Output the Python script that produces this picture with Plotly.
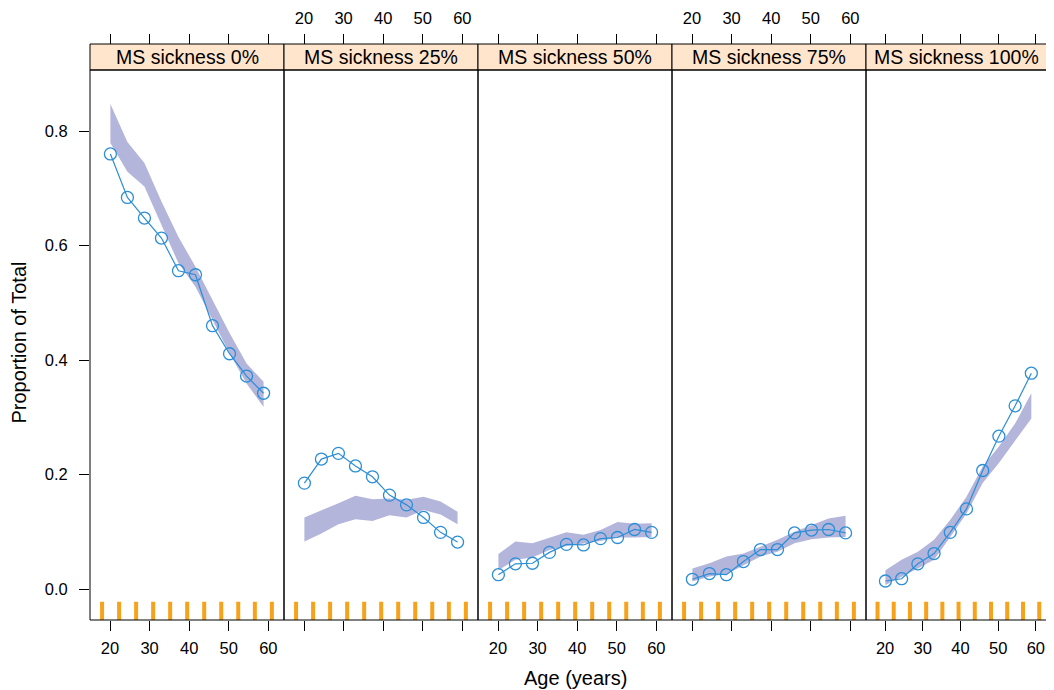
import plotly.graph_objects as go

# ---------------- data ----------------
panels = ["MS sickness 0%", "MS sickness 25%", "MS sickness 50%",
          "MS sickness 75%", "MS sickness 100%"]
ages = [20.1, 24.4, 28.7, 33.0, 37.3, 41.6, 45.9, 50.2, 54.5, 58.8]
rug_ages = [18.0, 22.3, 26.6, 30.9, 35.2, 39.5, 43.8, 48.1, 52.4, 56.6, 60.9]

obs_0 = [0.760, 0.684, 0.648, 0.613, 0.556, 0.549, 0.460, 0.411, 0.372, 0.342]
obs_25 = [0.185, 0.227, 0.237, 0.215, 0.196, 0.164, 0.147, 0.125, 0.099, 0.082]
obs_50 = [0.025, 0.044, 0.045, 0.064, 0.078, 0.077, 0.088, 0.090, 0.104, 0.099]
obs_75 = [0.017, 0.027, 0.025, 0.048, 0.069, 0.069, 0.098, 0.103, 0.104, 0.098]
obs_100 = [0.014, 0.018, 0.044, 0.062, 0.099, 0.140, 0.207, 0.267, 0.320, 0.377]

upper_0 = [0.847, 0.781, 0.744, 0.677, 0.615, 0.563, 0.505, 0.447, 0.394, 0.362]
lower_0 = [0.779, 0.729, 0.703, 0.636, 0.569, 0.528, 0.470, 0.412, 0.359, 0.318]
upper_25 = [0.125, 0.137, 0.150, 0.163, 0.157, 0.158, 0.156, 0.161, 0.153, 0.135]
lower_25 = [0.083, 0.097, 0.113, 0.122, 0.119, 0.129, 0.125, 0.138, 0.130, 0.113]
upper_50 = [0.061, 0.083, 0.080, 0.090, 0.099, 0.095, 0.103, 0.117, 0.114, 0.115]
lower_50 = [0.033, 0.051, 0.055, 0.068, 0.075, 0.079, 0.084, 0.090, 0.090, 0.091]
upper_75 = [0.036, 0.045, 0.057, 0.062, 0.074, 0.086, 0.100, 0.112, 0.123, 0.128]
lower_75 = [0.013, 0.022, 0.026, 0.042, 0.057, 0.065, 0.080, 0.087, 0.090, 0.091]
upper_100 = [0.033, 0.051, 0.065, 0.086, 0.121, 0.161, 0.214, 0.249, 0.289, 0.342]
lower_100 = [0.007, 0.022, 0.036, 0.051, 0.091, 0.132, 0.185, 0.220, 0.260, 0.298]

x_ticks = [20, 30, 40, 50, 60]
y_ticks = [0.0, 0.2, 0.4, 0.6, 0.8]
y_ticktext = ["0.0", "0.2", "0.4", "0.6", "0.8"]

observed = [obs_0, obs_25, obs_50, obs_75, obs_100]
uppers = [upper_0, upper_25, upper_50, upper_75, upper_100]
lowers = [lower_0, lower_25, lower_50, lower_75, lower_100]

# ---------------- styling / geometry ----------------
OFF = 8                     # page body margin in the browser
VIS_RIGHT = 1046            # right edge of the visible page area
W, H = 1054 - OFF, 690 - OFF
ML, MR, MT = 90 - OFF, 0, 44 - OFF
plot_w = W - ML - MR        # 964
plot_h = 576
MB = H - MT - plot_h
panel_px = 194
strip_px = 26
ydom_top = (plot_h - strip_px) / plot_h

x_lo = 14.947
px_per_year = 3.958
last_px_per_year = 3.77
y_range = [-0.0541, 0.9066]
rug_top = -0.0222

band_col = "#B3B5DB"
pt_col = "#2C8ED6"
rug_col = "#F7A21B"
strip_col = "#FFE5CC"
FONT = "Liberation Sans, Arial, Helvetica, sans-serif"


def px_x(abs_x):
    return (abs_x - 90) / plot_w


def px_y(abs_y):
    return (620 - abs_y) / plot_h


fig = go.Figure()

for i in range(5):
    xs = "x" if i == 0 else f"x{i+1}"
    fig.add_trace(go.Scatter(
        x=ages + ages[::-1], y=uppers[i] + lowers[i][::-1],
        fill="toself", fillcolor=band_col, line=dict(width=0),
        mode="lines", xaxis=xs, yaxis="y", hoverinfo="skip", showlegend=False))
    rx, ry = [], []
    for r in rug_ages:
        rx += [r, r, None]
        ry += [y_range[0], rug_top, None]
    fig.add_trace(go.Scatter(
        x=rx, y=ry, mode="lines", line=dict(color=rug_col, width=4),
        xaxis=xs, yaxis="y", hoverinfo="skip", showlegend=False))
    fig.add_trace(go.Scatter(
        x=ages, y=observed[i], mode="lines+markers",
        line=dict(color=pt_col, width=1.2),
        marker=dict(symbol="circle-open", size=12, color=pt_col,
                    line=dict(width=1.3, color=pt_col)),
        xaxis=xs, yaxis="y", showlegend=False))
    fig.add_trace(go.Scatter(
        x=[40], y=[0.4], mode="markers", marker=dict(opacity=0),
        xaxis=f"x{i+6}", yaxis="y", hoverinfo="skip", showlegend=False))

layout = dict(
    width=W, height=H,
    margin=dict(l=ML, r=MR, t=MT, b=MB, pad=0),
    paper_bgcolor="white", plot_bgcolor="white",
    font=dict(family=FONT, color="black"),
    showlegend=False,
)

shapes = []
annotations = []
for i in range(5):
    left_abs = 90 + i * panel_px
    if i < 4:
        right_abs = left_abs + panel_px
        x_hi = x_lo + panel_px / px_per_year
    else:
        right_abs = VIS_RIGHT
        x_hi = x_lo + (right_abs - left_abs) / last_px_per_year
    d0 = px_x(left_abs)
    d1 = px_x(right_abs)
    key = "xaxis" if i == 0 else f"xaxis{i+1}"
    layout[key] = dict(
        domain=[d0, d1], range=[x_lo, x_hi], anchor="y",
        tickvals=x_ticks, ticks="outside", ticklen=10, tickwidth=1,
        tickcolor="black", showticklabels=(i % 2 == 0),
        tickfont=dict(size=16.5, family=FONT, color="black"),
        ticklabelstandoff=3, ticklabeloverflow="allow",
        showgrid=False, zeroline=False, showline=False, fixedrange=True)
    layout[f"xaxis{i+6}"] = dict(
        overlaying="x" if i == 0 else f"x{i+1}", side="top",
        anchor="free", position=1.0, range=[x_lo, x_hi],
        tickvals=x_ticks, ticks="outside", ticklen=10, tickwidth=1,
        tickcolor="black", showticklabels=(i % 2 == 1),
        tickfont=dict(size=16.5, family=FONT, color="black"),
        ticklabelstandoff=3,
        showgrid=False, zeroline=False, showline=False, fixedrange=True)
    x1p = d1 if i < 4 else 1.02
    shapes.append(dict(type="rect", xref="paper", yref="paper",
                       x0=d0, x1=x1p, y0=0, y1=ydom_top,
                       line=dict(color="black", width=1), layer="above"))
    shapes.append(dict(type="rect", xref="paper", yref="paper",
                       x0=d0, x1=x1p, y0=ydom_top, y1=1.0,
                       fillcolor=strip_col, line=dict(color="black", width=1),
                       layer="below"))
    annotations.append(dict(
        text=panels[i], xref="paper", yref="paper",
        x=(d0 + d1) / 2, y=(ydom_top + 1) / 2,
        xanchor="center", yanchor="middle", showarrow=False,
        font=dict(size=19.5, family=FONT, color="black")))

layout["yaxis"] = dict(
    domain=[0, ydom_top], range=y_range, anchor="x",
    tickvals=y_ticks, ticktext=y_ticktext, ticks="outside", ticklen=10,
    tickwidth=1, tickcolor="black",
    tickfont=dict(size=16.5, family=FONT, color="black"),
    ticklabelstandoff=8,
    showgrid=False, zeroline=False, showline=False, fixedrange=True)

annotations.append(dict(
    text="Proportion of Total", xref="paper", yref="paper",
    x=px_x(18.5), y=px_y(343),
    xanchor="center", yanchor="middle", textangle=-90, showarrow=False,
    font=dict(size=20, family=FONT, color="black")))
annotations.append(dict(
    text="Age (years)", xref="paper", yref="paper",
    x=px_x(575), y=px_y(678),
    xanchor="center", yanchor="middle", showarrow=False,
    font=dict(size=20, family=FONT, color="black")))

layout["shapes"] = shapes
layout["annotations"] = annotations
fig.update_layout(**layout)

fig.write_html("out.html")
